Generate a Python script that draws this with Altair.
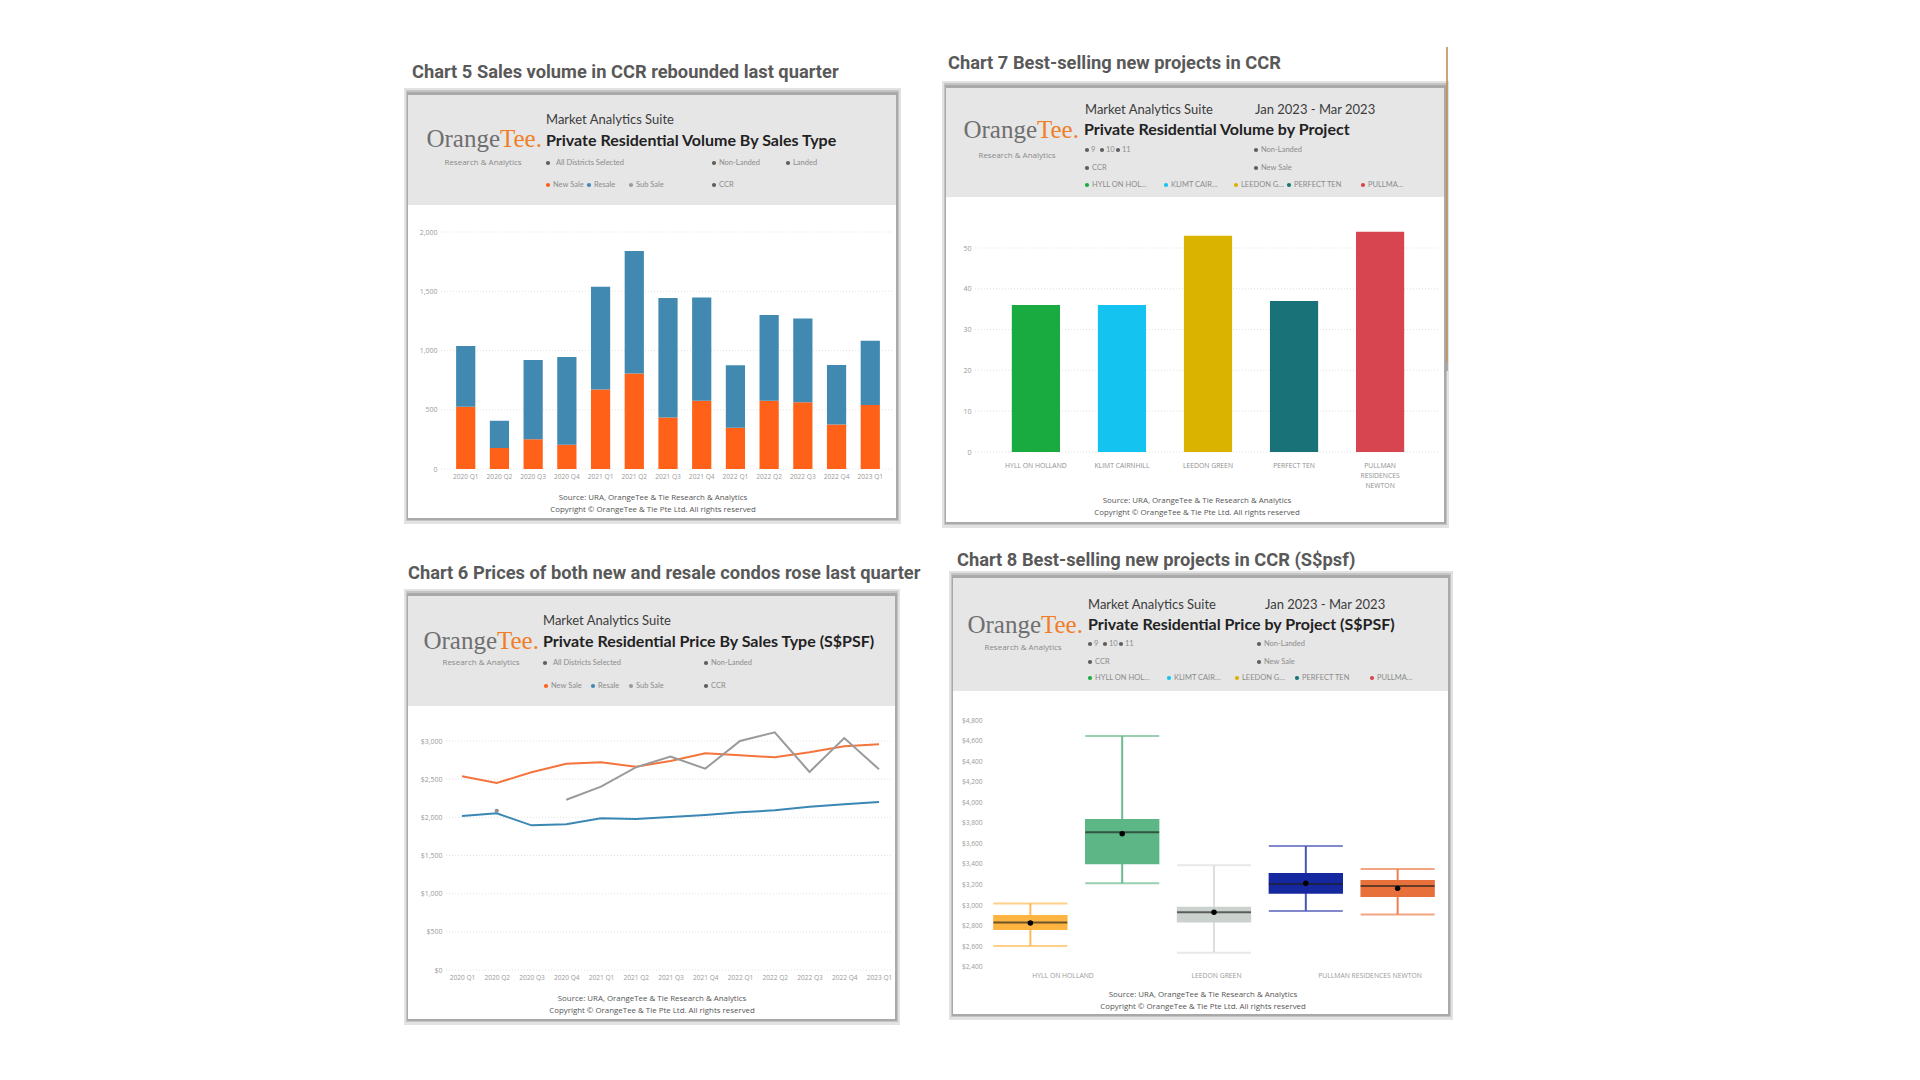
import altair as alt
import pandas as pd

OFF = 8          # page margin: image coords -> canvas coords
W, H = 1904, 1064

# ---------------- data ----------------
quarters = ["2020 Q1", "2020 Q2", "2020 Q3", "2020 Q4", "2021 Q1", "2021 Q2", "2021 Q3",
            "2021 Q4", "2022 Q1", "2022 Q2", "2022 Q3", "2022 Q4", "2023 Q1"]
vol_new_sale = [525, 177, 252, 205, 670, 805, 435, 575, 348, 575, 564, 376, 541]
vol_resale = [513, 230, 668, 740, 867, 1035, 1007, 872, 527, 724, 707, 502, 542]
vol_ticks = [0, 500, 1000, 1500, 2000]

price_new_sale = [2537, 2450, 2590, 2703, 2721, 2664, 2738, 2838, 2812, 2786, 2852, 2930, 2956]
price_resale = [2017, 2052, 1895, 1908, 1987, 1978, 2004, 2031, 2066, 2092, 2140, 2170, 2201]
price_sub_sale = [None, 2085, None, 2231, 2402, 2655, 2795, 2638, 3000, 3114, 2594, 3039, 2629]
price_ticks = [0, 500, 1000, 1500, 2000, 2500, 3000]

projects = ["HYLL ON HOLLAND", "KLIMT CAIRNHILL", "LEEDON GREEN", "PERFECT TEN",
            "PULLMAN RESIDENCES NEWTON"]
project_units = [36, 36, 53, 37, 54]
unit_ticks = [0, 10, 20, 30, 40, 50]

psf_min = [2601, 3211, 2536, 2942, 2909]
psf_q1 = [2757, 3396, 2831, 3110, 3078]
psf_median = [2831, 3707, 2929, 3204, 3185]
psf_mean = [2825, 3694, 2929, 3211, 3162]
psf_q3 = [2903, 3837, 2984, 3311, 3243]
psf_max = [3016, 4645, 3386, 3574, 3350]
psf_ticks = [2400, 2600, 2800, 3000, 3200, 3400, 3600, 3800, 4000, 4200, 4400, 4600, 4800]
psf_axis_labels = ["HYLL ON HOLLAND", "LEEDON GREEN", "PULLMAN RESIDENCES NEWTON"]

# ---------------- styles ----------------
C_NEW = "#FF6118"
C_RESALE = "#4189B0"
C_SUB = "#9a9a9a"
LINE_NEW = "#F4743B"
LINE_RESALE = "#3A87B3"
project_colors = ["#1AAB40", "#15C3F0", "#D9B300", "#197278", "#D64550"]
box_colors = ["#FDB440", "#5DB685", "#CBD2CE", "#16289F", "#E8703A"]
whisker_colors = ["#FDBA55", "#6DBB8F", "#DCDFDD", "#4B55B5", "#EB7F4D"]
HEADER_GRAY = "#e6e6e6"
AX_LABEL = "#9a9a9a"
LEG = 7.5

dummy = pd.DataFrame({"d": [0]})


def txt(x, y, s, size=LEG, color="#8a8a8a", font="Lato", weight="normal",
        align="left", baseline="middle"):
    return alt.Chart(dummy).mark_text(
        text=s, fontSize=size, color=color, font=font, fontWeight=weight,
        align=align, baseline=baseline
    ).encode(x=alt.value(x - OFF), y=alt.value(y - OFF))


def rect(x0, y0, x1, y1, color, opacity=1.0):
    return alt.Chart(dummy).mark_rect(color=color, opacity=opacity).encode(
        x=alt.value(x0 - OFF), x2=alt.value(x1 - OFF),
        y=alt.value(y0 - OFF), y2=alt.value(y1 - OFF))


def dot(x, y, color, size=18):
    return alt.Chart(dummy).mark_point(filled=True, shape="circle", size=size,
                                       color=color, opacity=1).encode(
        x=alt.value(x - OFF), y=alt.value(y - OFF))


def legend_row(items, y):
    out = []
    for xd, c, lab, gap in items:
        out.append(dot(xd, y, c))
        out.append(txt(xd + gap, y, lab, size=LEG, color="#8c8c8c"))
    return out


def box(x0, y0, x1, y1, yh):
    return [
        rect(x0 - 4, y0 - 7, x1 + 5, y1 + 6, "#e2e2e2"),
        rect(x0 - 2, y0 - 5, x1 + 3, y1 + 3, "#c4c4c4"),
        rect(x0 - 1, y0 - 3, x1 + 2, y1 + 2, "#a9a9a9"),
        rect(x0, y0, x1, y1, "#ffffff"),
        rect(x0, y0, x1, yh, HEADER_GRAY),
    ]


def logo(xs, yb, rcx, ry):
    return [
        txt(xs, yb, "Orange", size=25, color="#6f6f6f", font="Liberation Serif",
            align="right", baseline="alphabetic"),
        txt(xs, yb, "Tee.", size=25, color="#F07E26", font="Liberation Serif",
            align="left", baseline="alphabetic"),
        txt(rcx, ry, "Research & Analytics", size=8, color="#8a8a8a",
            font="Open Sans", align="center"),
    ]


def source(cx, y1, y2):
    return [
        txt(cx, y1, "Source: URA, OrangeTee & Tie Research & Analytics", size=7.9,
            color="#555555", font="Open Sans", align="center"),
        txt(cx, y2, "Copyright \u00a9 OrangeTee & Tie Pte Ltd. All rights reserved", size=7.9,
            color="#555555", font="Open Sans", align="center"),
    ]


def axis_common(**kw):
    base = dict(domain=False, ticks=False, grid=False, labelFontSize=7,
                labelColor=AX_LABEL, labelFont="Open Sans", title=None, zindex=1)
    base.update(kw)
    return alt.Axis(**base)


def grid_rules(ticks, scale, axis, x0, x1):
    return alt.Chart(pd.DataFrame({"tick": ticks})).mark_rule(
        color="#e2e2e2", strokeDash=[1, 2], strokeWidth=1
    ).encode(y=alt.Y("tick:Q", scale=scale, axis=axis, title=None),
             x=alt.value(x0 - OFF), x2=alt.value(x1 - OFF))


# ---------------- panel 5 : stacked bars ----------------
df5 = pd.DataFrame({
    "quarter": quarters + quarters,
    "type": ["New Sale"] * len(quarters) + ["Resale"] * len(quarters),
    "units": vol_new_sale + vol_resale,
    "ord": [0] * len(quarters) + [1] * len(quarters),
})
S5y = alt.Scale(domain=[0, 2000], range=[469 - OFF, 232 - OFF], nice=False)
A5y = axis_common(orient="left", offset=-(441 - OFF), values=vol_ticks, format=",.0f",
                  labelPadding=4)
X5 = alt.X("quarter:N", sort=quarters, title=None,
           scale=alt.Scale(range=[446 - OFF, 890 - OFF], paddingInner=0.43, paddingOuter=0.3),
           axis=axis_common(orient="bottom", offset=(469 - OFF) - H, labelAngle=0,
                            labelPadding=4, labelFontSize=6.6))
Y5 = alt.Y("units:Q", stack="zero", title=None, scale=S5y, axis=A5y)
grid5 = grid_rules(vol_ticks, S5y, A5y, 441, 892)
bars5 = alt.Chart(df5).mark_bar().encode(
    x=X5, y=Y5,
    color=alt.Color("type:N", scale=alt.Scale(domain=["New Sale", "Resale"],
                                              range=[C_NEW, C_RESALE]), legend=None),
    order=alt.Order("ord:Q"))
panel5 = alt.layer(grid5, bars5)

# ---------------- panel 6 : lines ----------------
rows6 = []
for q, v in zip(quarters, price_new_sale):
    rows6.append({"quarter": q, "series": "New Sale", "price": v, "seg": "n"})
for q, v in zip(quarters, price_resale):
    rows6.append({"quarter": q, "series": "Resale", "price": v, "seg": "r"})
seg = 0
for q, v in zip(quarters, price_sub_sale):
    if v is None:
        seg += 1
        continue
    rows6.append({"quarter": q, "series": "Sub Sale", "price": v, "seg": "s%d" % seg})
df6 = pd.DataFrame(rows6)
seg_counts = df6["seg"].value_counts()
df6_single = df6[df6["seg"].map(seg_counts) == 1]

S6y = alt.Scale(domain=[0, 3000], range=[970 - OFF, 741 - OFF], nice=False)
A6y = axis_common(orient="left", offset=-(446 - OFF), values=price_ticks, format="$,.0f",
                  labelPadding=4)
X6 = alt.X("quarter:N", sort=quarters, title=None,
           scale=alt.Scale(type="point", range=[462 - OFF, 879 - OFF], padding=0),
           axis=axis_common(orient="bottom", offset=(970 - OFF) - H, labelAngle=0,
                            labelPadding=4, labelFontSize=6.6))
Y6 = alt.Y("price:Q", title=None, scale=S6y, axis=A6y)
grid6 = grid_rules(price_ticks, S6y, A6y, 446, 892)
lines6 = alt.Chart(df6).mark_line(strokeWidth=2).encode(
    x=X6, y=Y6,
    color=alt.Color("series:N", scale=alt.Scale(domain=["New Sale", "Resale", "Sub Sale"],
                                                range=[LINE_NEW, LINE_RESALE, C_SUB]),
                    legend=None),
    detail="seg:N")
pts6 = alt.Chart(df6_single).mark_point(filled=True, size=18, color="#8f8f8f",
                                        opacity=1).encode(x=X6, y=Y6)
panel6 = alt.layer(grid6, lines6, pts6)

# ---------------- panel 7 : bars by project ----------------
df7 = pd.DataFrame({"project": projects, "units": project_units})
S7y = alt.Scale(domain=[0, 50], range=[452 - OFF, 248 - OFF], nice=False)
A7y = axis_common(orient="left", offset=-(975 - OFF), values=unit_ticks, format=".0f",
                  labelPadding=4)
X7 = alt.X("project:N", sort=projects, title=None,
           scale=alt.Scale(range=[986 - OFF, 1430 - OFF], paddingInner=0.44, paddingOuter=0.3),
           axis=axis_common(orient="bottom", offset=(452 - OFF) - H, labelAngle=0,
                            labelPadding=10, labelLineHeight=10, labelColor="#8f8f8f",
                            labelFontSize=6.8,
                            labelExpr="datum.value == 'PULLMAN RESIDENCES NEWTON' ? "
                                      "['PULLMAN', 'RESIDENCES', 'NEWTON'] : datum.label"))
Y7 = alt.Y("units:Q", title=None, scale=S7y, axis=A7y)
grid7 = grid_rules(unit_ticks, S7y, A7y, 975, 1440)
bars7 = alt.Chart(df7).mark_bar().encode(
    x=X7, y=Y7,
    color=alt.Color("project:N", scale=alt.Scale(domain=projects, range=project_colors),
                    legend=None))
panel7 = alt.layer(grid7, bars7)

# ---------------- panel 8 : box plots ----------------
df8 = pd.DataFrame({
    "project": projects, "low": psf_min, "q1": psf_q1, "median": psf_median,
    "mean": psf_mean, "q3": psf_q3, "high": psf_max,
    "box_color": box_colors, "whisker_color": whisker_colors,
})
S8y = alt.Scale(domain=[2400, 4800], range=[966.7 - OFF, 720 - OFF], nice=False, zero=False)
A8y = axis_common(orient="left", offset=-(986 - OFF), values=psf_ticks, format="$,.0f",
                  labelPadding=4, labelFontSize=6.6)
X8 = alt.X("project:N", sort=projects, title=None,
           scale=alt.Scale(range=[984 - OFF, 1444 - OFF], paddingInner=0.19, paddingOuter=0.1),
           axis=None)


def y8(field):
    return alt.Y(field + ":Q", title=None, scale=S8y, axis=A8y)


base8 = alt.Chart(df8)
whisk8 = base8.mark_rule(strokeWidth=2).encode(
    x=X8, y=y8("low"), y2="high:Q", color=alt.Color("whisker_color:N", scale=None))
cap_lo8 = base8.mark_tick(thickness=2, size=74).encode(
    x=X8, y=y8("low"), color=alt.Color("whisker_color:N", scale=None))
cap_hi8 = base8.mark_tick(thickness=2, size=74).encode(
    x=X8, y=y8("high"), color=alt.Color("whisker_color:N", scale=None))
box8 = base8.mark_bar().encode(
    x=X8, y=y8("q1"), y2="q3:Q", color=alt.Color("box_color:N", scale=None))
med8 = base8.mark_tick(thickness=2, size=74, color="#1e1e1e", opacity=0.65).encode(
    x=X8, y=y8("median"))
mean8 = base8.mark_point(filled=True, size=30, color="#000000", opacity=1).encode(
    x=X8, y=y8("mean"))
panel8 = alt.layer(whisk8, cap_lo8, cap_hi8, box8, med8, mean8)

# category labels of chart 8 (Power BI shows every other one, spread evenly)
labels8 = alt.Chart(pd.DataFrame({"label": psf_axis_labels})).mark_text(
    fontSize=6.8, color="#9a9a9a", font="Open Sans", baseline="middle"
).encode(
    x=alt.X("label:N", sort=psf_axis_labels, axis=None,
            scale=alt.Scale(type="point", range=[1063 - OFF, 1370 - OFF], padding=0)),
    y=alt.value(976 - OFF),
    text="label:N")

# ---------------- decoration ----------------
layers = []
# boxes
layers += box(408, 95, 896, 518, 205)     # chart 5
layers += box(946, 88, 1444, 522, 197)    # chart 7
layers += box(408, 596, 895, 1019, 706)   # chart 6
layers += box(953, 578, 1448, 1014, 691)  # chart 8
# odd vertical line right of chart 7
layers.append(alt.Chart(dummy).mark_rule(color="#B8874E", strokeWidth=1.5).encode(
    x=alt.value(1447 - OFF), y=alt.value(47 - OFF), y2=alt.value(363 - OFF)))
layers.append(alt.Chart(dummy).mark_rule(color="#9a9a9a", strokeWidth=1.5).encode(
    x=alt.value(1447 - OFF), y=alt.value(363 - OFF), y2=alt.value(371 - OFF)))

# panels
layers += [panel5, panel6, panel7, panel8, labels8]

# titles
TF = dict(size=18.3, color="#595959", font="Roboto", weight="bold", baseline="alphabetic")
layers.append(txt(412, 78, "Chart 5 Sales volume in CCR rebounded last quarter", **TF))
layers.append(txt(948, 69, "Chart 7 Best-selling new projects in CCR", **TF))
layers.append(txt(408, 579, "Chart 6 Prices of both new and resale condos rose last quarter", **TF))
layers.append(txt(957, 566, "Chart 8 Best-selling new projects in CCR (S$psf)", **TF))

MAS = dict(size=13, color="#3c3c3c", font="Lato")
BT = dict(size=16, color="#222222", font="Lato", weight="bold")
G = "#5e5e5e"

# chart 5 header
layers += logo(500, 147, 483, 163)
layers.append(txt(546, 120, "Market Analytics Suite", **MAS))
layers.append(txt(546, 141, "Private Residential Volume By Sales Type", **BT))
layers += legend_row([(548, G, "All Districts Selected", 8), (714, G, "Non-Landed", 5),
                      (788, G, "Landed", 5)], 163)
layers += legend_row([(548, C_NEW, "New Sale", 5), (589, C_RESALE, "Resale", 5),
                      (631, "#9a9a9a", "Sub Sale", 5), (714, G, "CCR", 5)], 185)
layers += source(653, 498, 510)

# chart 6 header
layers += logo(497, 649, 481, 663)
layers.append(txt(543, 621, "Market Analytics Suite", **MAS))
layers.append(txt(543, 642, "Private Residential Price By Sales Type (S$PSF)", **BT))
layers += legend_row([(545, G, "All Districts Selected", 8), (706, G, "Non-Landed", 5)], 663)
layers += legend_row([(546, C_NEW, "New Sale", 5), (593, C_RESALE, "Resale", 5),
                      (631, "#9a9a9a", "Sub Sale", 5), (706, G, "CCR", 5)], 686)
layers += source(652, 999, 1011)

short_names = ["HYLL ON HOL\u2026", "KLIMT CAIR\u2026", "LEEDON G\u2026", "PERFECT TEN",
               "PULLMA\u2026"]

# chart 7 header
layers += logo(1037, 138, 1017, 156)
layers.append(txt(1085, 110, "Market Analytics Suite", **MAS))
layers.append(txt(1255, 110, "Jan 2023 - Mar 2023", **MAS))
layers.append(txt(1084, 130, "Private Residential Volume by Project", **BT))
layers += legend_row([(1087, G, "9", 4), (1102, G, "10", 4), (1118, G, "11", 4),
                      (1256, G, "Non-Landed", 5)], 150)
layers += legend_row([(1087, G, "CCR", 5), (1256, G, "New Sale", 5)], 168)
layers += legend_row([(xd, c, n, 5) for xd, c, n in
                      zip([1087, 1166, 1236, 1289, 1363], project_colors, short_names)], 185)
layers += source(1197, 501, 513)

# chart 8 header
layers += logo(1041, 633, 1023, 648)
layers.append(txt(1088, 605, "Market Analytics Suite", **MAS))
layers.append(txt(1265, 605, "Jan 2023 - Mar 2023", **MAS))
layers.append(txt(1088, 625, "Private Residential Price by Project (S$PSF)", **BT))
layers += legend_row([(1090, G, "9", 4), (1105, G, "10", 4), (1121, G, "11", 4),
                      (1259, G, "Non-Landed", 5)], 644)
layers += legend_row([(1090, G, "CCR", 5), (1259, G, "New Sale", 5)], 662)
layers += legend_row([(xd, c, n, 5) for xd, c, n in
                      zip([1090, 1169, 1237, 1297, 1372], project_colors, short_names)], 678)
layers += source(1203, 995, 1007)

chart = alt.layer(*layers).resolve_scale(
    x="independent", y="independent", color="independent"
).properties(
    width=W, height=H, padding=0,
    autosize=alt.AutoSizeParams(type="none"),
    background="#ffffff",
).configure_view(stroke=None)

chart.save("out.html", embed_options={"renderer": "svg", "actions": False})
